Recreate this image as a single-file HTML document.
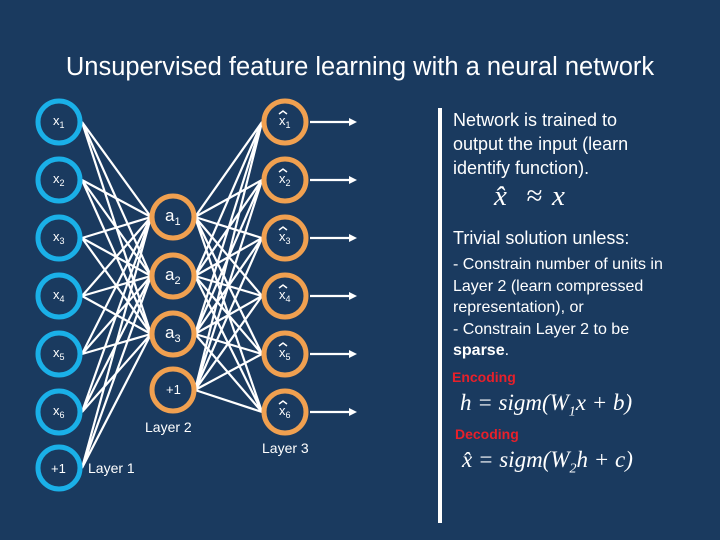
<!DOCTYPE html><html><head><style>
body{margin:0;width:720px;height:540px;background:#1a3a5f;overflow:hidden;font-family:"Liberation Sans",sans-serif;color:#fff}
.t{position:absolute;white-space:nowrap}
</style></head><body>
<div class="t" style="left:0;width:720px;text-align:center;top:53px;font-size:25.5px;">Unsupervised feature learning with a neural network</div>
<svg width="720" height="540" style="position:absolute;left:0;top:0" font-family="Liberation Sans">
<g stroke="#fff" stroke-width="2.2">
<path d="M82 122L151 217M82 122L151 276M82 122L151 334
M82 180L151 217M82 180L151 276M82 180L151 334
M82 238L151 217M82 238L151 276M82 238L151 334
M82 296L151 217M82 296L151 276M82 296L151 334
M82 354L151 217M82 354L151 276M82 354L151 334
M82 412L151 217M82 412L151 276M82 412L151 334
M82 468L151 217M82 468L151 276M82 468L151 334"/>
<path d="M195 217L262 122M195 217L262 180M195 217L262 238M195 217L262 296M195 217L262 354M195 217L262 412
M195 276L262 122M195 276L262 180M195 276L262 238M195 276L262 296M195 276L262 354M195 276L262 412
M195 334L262 122M195 334L262 180M195 334L262 238M195 334L262 296M195 334L262 354M195 334L262 412
M195 390L262 122M195 390L262 180M195 390L262 238M195 390L262 296M195 390L262 354M195 390L262 412"/>
<path d="M310 122H350M310 180H350M310 238H350M310 296H350M310 354H350M310 412H350"/>
</g>
<g fill="#fff">
<path d="M357 122l-8 -4v8zM357 180l-8 -4v8zM357 238l-8 -4v8zM357 296l-8 -4v8zM357 354l-8 -4v8zM357 412l-8 -4v8z"/>
</g>
<g fill="none" stroke="#1ab0e8" stroke-width="5">
<circle cx="59" cy="122" r="21"/><circle cx="59" cy="180" r="21"/><circle cx="59" cy="238" r="21"/><circle cx="59" cy="296" r="21"/><circle cx="59" cy="354" r="21"/><circle cx="59" cy="412" r="21"/><circle cx="59" cy="468" r="21"/>
</g>
<g fill="none" stroke="#f0a050" stroke-width="5">
<circle cx="173" cy="217" r="21"/><circle cx="173" cy="276" r="21"/><circle cx="173" cy="334" r="21"/><circle cx="173" cy="390" r="21"/>
<circle cx="285" cy="122" r="21"/><circle cx="285" cy="180" r="21"/><circle cx="285" cy="238" r="21"/><circle cx="285" cy="296" r="21"/><circle cx="285" cy="354" r="21"/><circle cx="285" cy="412" r="21"/>
</g>
<g fill="#fff" font-size="13">
<text x="53" y="125">x<tspan font-size="9" dy="3">1</tspan></text>
<text x="53" y="183">x<tspan font-size="9" dy="3">2</tspan></text>
<text x="53" y="241">x<tspan font-size="9" dy="3">3</tspan></text>
<text x="53" y="299">x<tspan font-size="9" dy="3">4</tspan></text>
<text x="53" y="357">x<tspan font-size="9" dy="3">5</tspan></text>
<text x="53" y="415">x<tspan font-size="9" dy="3">6</tspan></text>
<text x="51" y="473">+1</text>
<text x="279" y="125">x<tspan font-size="9" dy="3">1</tspan></text>
<text x="279" y="183">x<tspan font-size="9" dy="3">2</tspan></text>
<text x="279" y="241">x<tspan font-size="9" dy="3">3</tspan></text>
<text x="279" y="299">x<tspan font-size="9" dy="3">4</tspan></text>
<text x="279" y="357">x<tspan font-size="9" dy="3">5</tspan></text>
<text x="279" y="415">x<tspan font-size="9" dy="3">6</tspan></text>
<path d="M279 114l4 -3 4 3M279 172l4 -3 4 3M279 230l4 -3 4 3M279 288l4 -3 4 3M279 346l4 -3 4 3M279 404l4 -3 4 3" stroke="#fff" stroke-width="1.5" fill="none"/>
<text x="166" y="394">+1</text>
<text x="165" y="221" font-size="17">a<tspan font-size="11" dy="4">1</tspan></text>
<text x="165" y="280" font-size="17">a<tspan font-size="11" dy="4">2</tspan></text>
<text x="165" y="338" font-size="17">a<tspan font-size="11" dy="4">3</tspan></text>
<text x="88" y="473" font-size="14">Layer 1</text>
<text x="145" y="432" font-size="14">Layer 2</text>
<text x="262" y="453" font-size="14">Layer 3</text>
</g>
<rect x="438" y="108" width="4" height="415" fill="#fff"/>
</svg>
<div class="t" style="left:453px;top:108px;font-size:18px;line-height:24px">Network is trained to<br>output the input (learn<br>identify function).</div>
<div class="t" style="left:494px;top:180px;font-size:29px;font-family:'Liberation Serif',serif;font-style:italic">x&#770; <span style="margin-left:12px">≈</span><span style="margin-left:10px">x</span></div>
<div class="t" style="left:453px;top:228px;font-size:18px">Trivial solution unless:</div>
<div class="t" style="left:453px;top:254px;font-size:16px;line-height:21.5px">- Constrain number of units in<br>Layer 2 (learn compressed<br>representation), or<br>- Constrain Layer 2 to be<br><b>sparse</b>.</div>
<div class="t" style="left:452px;top:369px;font-size:14px;font-weight:bold;color:#e8202a">Encoding</div>
<div class="t" style="left:460px;top:390px;font-size:23px;font-family:'Liberation Serif',serif;font-style:italic">h = sigm(W<sub style="font-size:14px">1</sub>x + b)</div>
<div class="t" style="left:455px;top:426px;font-size:14px;font-weight:bold;color:#e8202a">Decoding</div>
<div class="t" style="left:462px;top:447px;font-size:23px;font-family:'Liberation Serif',serif;font-style:italic">x&#770; = sigm(W<sub style="font-size:14px">2</sub>h + c)</div>
</body></html>
